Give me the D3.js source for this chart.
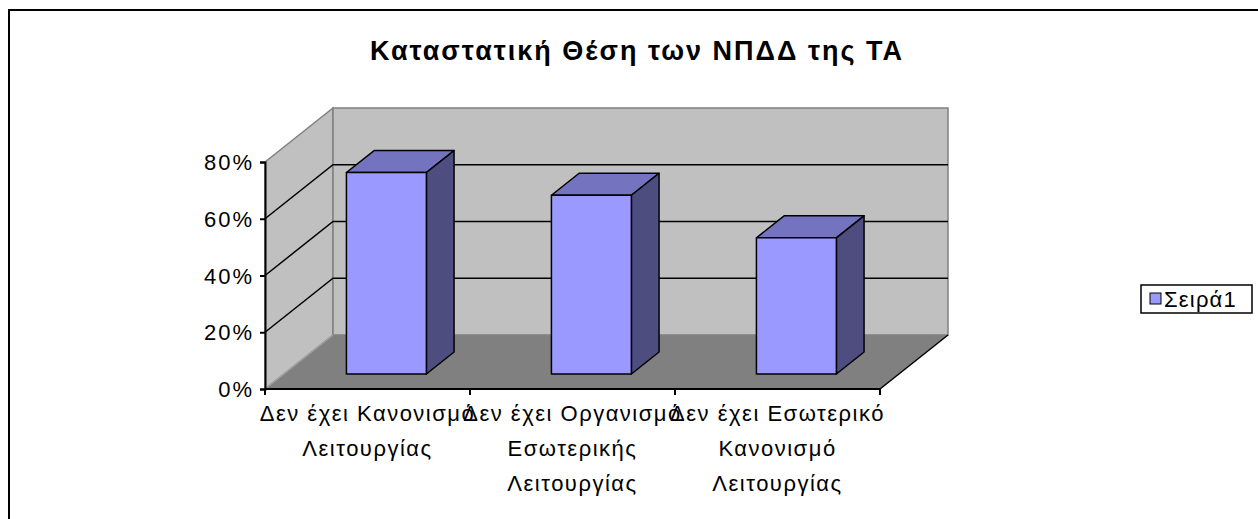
<!DOCTYPE html>
<html>
<head>
<meta charset="utf-8">
<script src="https://cdn.jsdelivr.net/npm/d3@7"></script>
<style>
  body { margin: 0; background: #fff; }
  text { font-family: "Liberation Sans", Arial, sans-serif; }
</style>
</head>
<body>
<svg width="1258" height="519"></svg>
<script>
// chart data
var title = "Καταστατική Θέση των ΝΠΔΔ της ΤΑ";
var categories = [
  ["Δεν έχει Κανονισμό", "Λειτουργίας"],
  ["Δεν έχει Οργανισμό", "Εσωτερικής", "Λειτουργίας"],
  ["Δεν έχει Εσωτερικό", "Κανονισμό", "Λειτουργίας"]
];
var values = [0.71, 0.63, 0.48];
var yTicks = [0, 0.2, 0.4, 0.6, 0.8];
var seriesName = "Σειρά1";

var svg = d3.select("svg");

// front plane of the 3d box, depth goes back/right
var depthX = 68, depthY = 54;
var x = d3.scaleBand().domain(d3.range(categories.length)).range([265, 880]).paddingInner(0).paddingOuter(0);
var xBar = d3.scaleBand().domain(d3.range(categories.length)).range([265, 880]).paddingInner(0.61).paddingOuter(0.305);
var y = d3.scaleLinear().domain([0, 0.8]).range([389, 162]);

function pt(px, py, z) { return [px + depthX * z, py - depthY * z]; }
function poly(pts) { return pts.map(function(p){ return p.join(","); }).join(" "); }

// outer border
svg.append("rect")
  .attr("x", 9).attr("y", 10).attr("width", 1260).attr("height", 520)
  .attr("fill", "none").attr("stroke", "#000").attr("stroke-width", 2);

// title
svg.append("text")
  .attr("x", 637).attr("y", 60)
  .attr("text-anchor", "middle")
  .attr("font-size", 27).attr("font-weight", "bold")
  .attr("letter-spacing", 2)
  .text(title);

var x0 = 265, x1 = 880, yb = y(0), yt = y(0.8);

// left wall
svg.append("polygon")
  .attr("points", poly([pt(x0, yt, 0), pt(x0, yt, 1), pt(x0, yb, 1), pt(x0, yb, 0)]))
  .attr("fill", "#c0c0c0").attr("stroke", "#808080").attr("stroke-width", 1.5);
// back wall
svg.append("polygon")
  .attr("points", poly([pt(x0, yt, 1), pt(x1, yt, 1), pt(x1, yb, 1), pt(x0, yb, 1)]))
  .attr("fill", "#c0c0c0").attr("stroke", "#808080").attr("stroke-width", 1.5);
// floor
svg.append("polygon")
  .attr("points", poly([pt(x0, yb, 0), pt(x0, yb, 1), pt(x1, yb, 1), pt(x1, yb, 0)]))
  .attr("fill", "#808080").attr("stroke", "none");
svg.append("line")
  .attr("x1", pt(x0, yb, 0)[0]).attr("y1", pt(x0, yb, 0)[1])
  .attr("x2", pt(x0, yb, 1)[0]).attr("y2", pt(x0, yb, 1)[1])
  .attr("stroke", "#a0a0a0").attr("stroke-width", 1.5);
svg.append("line")
  .attr("x1", pt(x1, yb, 0)[0]).attr("y1", pt(x1, yb, 0)[1])
  .attr("x2", pt(x1, yb, 1)[0]).attr("y2", pt(x1, yb, 1)[1])
  .attr("stroke", "#000").attr("stroke-width", 1.5);

// gridlines
var grid = svg.append("g");
yTicks.filter(function(t){ return t > 0 && t < 0.8; }).forEach(function(t) {
  var a = pt(x0, y(t), 0), b = pt(x0, y(t), 1), c = pt(x1, y(t), 1);
  grid.append("polyline")
    .attr("points", poly([a, b, c]))
    .attr("fill", "none").attr("stroke", "#000").attr("stroke-width", 1.5);
});

// bars
var zf = 0.278, zb = 0.685;
var bars = svg.append("g").selectAll("g").data(values).enter().append("g");
bars.append("polygon") // top
  .attr("points", function(d, i) {
    var l = xBar(i), r = xBar(i) + xBar.bandwidth(), h = y(d);
    return poly([pt(l, h, zf), pt(l, h, zb), pt(r, h, zb), pt(r, h, zf)]);
  })
  .attr("fill", "#7373bf").attr("stroke", "#000").attr("stroke-width", 1.5).attr("stroke-linejoin", "round");
bars.append("polygon") // side
  .attr("points", function(d, i) {
    var r = xBar(i) + xBar.bandwidth(), h = y(d);
    return poly([pt(r, h, zf), pt(r, h, zb), pt(r, y(0), zb), pt(r, y(0), zf)]);
  })
  .attr("fill", "#4d4d80").attr("stroke", "#000").attr("stroke-width", 1.5).attr("stroke-linejoin", "round");
bars.append("polygon") // front
  .attr("points", function(d, i) {
    var l = xBar(i), r = xBar(i) + xBar.bandwidth(), h = y(d);
    return poly([pt(l, h, zf), pt(r, h, zf), pt(r, y(0), zf), pt(l, y(0), zf)]);
  })
  .attr("fill", "#9999ff").attr("stroke", "#000").attr("stroke-width", 1.5).attr("stroke-linejoin", "round");

// y axis
var yAxis = svg.append("g")
  .attr("transform", "translate(" + x0 + ",0)")
  .call(d3.axisLeft(y).tickValues(yTicks).tickFormat(d3.format(".0%")).tickSize(5).tickPadding(6));
yAxis.select(".domain").attr("stroke-width", 2);
yAxis.selectAll(".tick line").attr("stroke-width", 2);
yAxis.selectAll("text").attr("font-size", 22).attr("letter-spacing", 2)
  .attr("font-family", "Liberation Sans, Arial, sans-serif").attr("fill", "#000").attr("dy", "0.35em");

// x axis
var xAxis = svg.append("g").attr("transform", "translate(0," + yb + ")");
xAxis.append("line").attr("x1", x0).attr("x2", x1).attr("stroke", "#000").attr("stroke-width", 2);
xAxis.selectAll(".tk").data(d3.range(categories.length + 1)).enter().append("line")
  .attr("x1", function(i){ return i < categories.length ? x(i) : x1; })
  .attr("x2", function(i){ return i < categories.length ? x(i) : x1; })
  .attr("y1", 0).attr("y2", 6).attr("stroke", "#000").attr("stroke-width", 2);
var labels = xAxis.selectAll(".lbl").data(categories).enter().append("text")
  .attr("text-anchor", "middle").attr("font-size", 22).attr("letter-spacing", 1.5);
labels.selectAll("tspan").data(function(d, i){ return d.map(function(s){ return {s: s, i: i}; }); })
  .enter().append("tspan")
  .attr("x", function(d){ return x(d.i) + x.bandwidth() / 2; })
  .attr("y", function(d, j){ return 32 + j * 35; })
  .text(function(d){ return d.s; });

// legend
var lg = svg.append("g").attr("transform", "translate(1141,285)");
lg.append("rect").attr("width", 111).attr("height", 28).attr("fill", "#fff").attr("stroke", "#000").attr("stroke-width", 1.5);
lg.append("rect").attr("x", 9).attr("y", 8).attr("width", 11).attr("height", 11).attr("fill", "#9999ff").attr("stroke", "#000");
lg.append("text").attr("x", 23).attr("y", 22).attr("font-size", 22).attr("letter-spacing", 1.2).text(seriesName);
</script>
</body>
</html>
